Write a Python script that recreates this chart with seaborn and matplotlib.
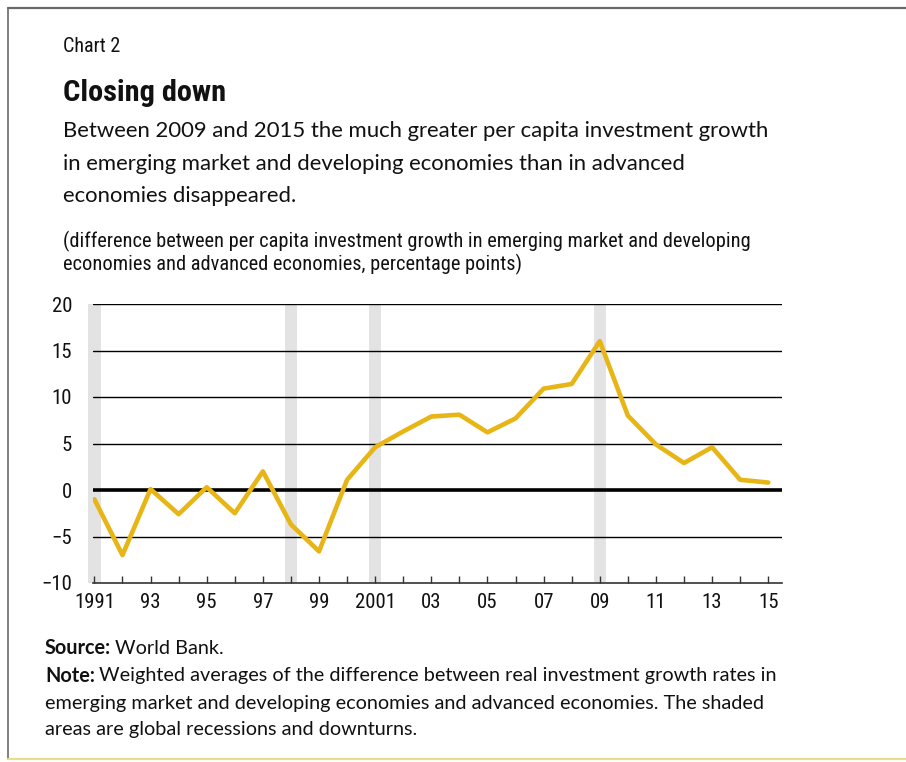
import numpy as np
import pandas as pd
import matplotlib
matplotlib.use("Agg")
import matplotlib.pyplot as plt
from matplotlib.lines import Line2D
import logging
import seaborn as sns

logging.getLogger("matplotlib.font_manager").setLevel(logging.ERROR)

# Difference in per capita investment growth, EMDEs minus advanced economies (pp)
years = list(range(1991, 2016))
gap = [-1.0, -7.0, 0.1, -2.6, 0.3, -2.5, 2.0, -3.7, -6.6, 1.1,
       4.6, 6.3, 7.9, 8.1, 6.2, 7.7, 10.9, 11.4, 16.0, 8.0,
       4.9, 2.9, 4.6, 1.1, 0.8]
# Global recessions and downturns
recession_years = [1991, 1998, 2001, 2009]

y_ticks = [-10, -5, 0, 5, 10, 15, 20]
y_tick_labels = ["\u221210", "\u22125", "0", "5", "10", "15", "20"]
x_label_years = list(range(1991, 2016, 2))
x_tick_labels = ["1991", "93", "95", "97", "99", "2001", "03", "05", "07", "09", "11", "13", "15"]

df = pd.DataFrame({"year": years, "gap": gap})

sns.set_theme(style="white")
COND = ["Roboto Condensed", "Barlow Semi Condensed", "Barlow Condensed", "Roboto", "DejaVu Sans"]
REG = ["Lato", "Open Sans", "DejaVu Sans"]
plt.rcParams["font.family"] = COND

W, H = 906, 762
fig = plt.figure(figsize=(W / 100, H / 100), dpi=100)
fig.patch.set_facecolor("white")
renderer = fig.canvas.get_renderer()


def fx(px):
    return px / W


def fy(py):
    return 1 - py / H


def fit(t, width_px):
    """Scale a text's font size so it spans width_px pixels."""
    bb = t.get_window_extent(renderer=renderer)
    size = t.get_fontsize() * width_px / bb.width
    t.set_fontsize(size)
    return size


# Axes placed in pixel terms
left, right, top, bottom = 93, 782, 304, 583
ax = fig.add_axes([left / W, 1 - bottom / H, (right - left) / W, (bottom - top) / H])

for yr in recession_years:
    ax.axvspan(yr - 0.22, yr + 0.22, color="#E3E3E3", lw=0, zorder=0, clip_on=False)

for yv in [-5, 5, 10, 15, 20]:
    ax.axhline(yv, color="black", lw=1.0, zorder=1)
ax.axhline(0, color="black", lw=2.6, zorder=2)

sns.lineplot(data=df, x="year", y="gap", ax=ax, color="#E7B515", lw=3.3, zorder=3)

# Tick label size: "2001" about 41 px wide
probe = fig.text(0, 0, "2001", fontsize=16, family=COND)
tick_size = fit(probe, 41)
probe.remove()

ax.set_xlim(1990.95, 2015.49)
ax.set_ylim(-10, 20)
ax.set_yticks(y_ticks)
ax.set_yticklabels(y_tick_labels)
ax.set_xticks(years, minor=True)
ax.set_xticks(x_label_years)
ax.set_xticklabels(x_tick_labels)
ax.set_xlabel("")
ax.set_ylabel("")

for s in ["top", "right", "left"]:
    ax.spines[s].set_visible(False)
ax.spines["bottom"].set_color("#333333")
ax.spines["bottom"].set_linewidth(1.2)

ax.tick_params(axis="x", which="both", direction="in", length=5, width=1.0,
               color="#333333", bottom=True, labelsize=tick_size, pad=7.5, labelcolor="#111111")
ax.tick_params(axis="y", length=0, labelsize=tick_size, pad=15, labelcolor="#111111")
ax.set_facecolor("none")

text_kw = dict(color="#111111", va="center", ha="left")
t = fig.text(fx(63), fy(46), "Chart 2", fontsize=13, family=COND, **text_kw)
fit(t, 57)
t = fig.text(fx(63), fy(93), "Closing down", fontsize=20, fontweight="bold", family=COND, **text_kw)
fit(t, 163)

sub = ["Between 2009 and 2015 the much greater per capita investment growth",
       "in emerging market and developing economies than in advanced",
       "economies disappeared."]
t0 = fig.text(fx(63), fy(131), sub[0], fontsize=17, family=REG, **text_kw)
sub_size = fit(t0, 707)
for i, line in enumerate(sub[1:], start=1):
    fig.text(fx(63), fy(131 + 32.5 * i), line, fontsize=sub_size, family=REG, **text_kw)

units = ["(difference between per capita investment growth in emerging market and developing",
         "economies and advanced economies, percentage points)"]
u0 = fig.text(fx(63), fy(241), units[0], fontsize=13, family=COND, **text_kw)
unit_size = fit(u0, 683)
fig.text(fx(63), fy(264), units[1], fontsize=unit_size, family=COND, **text_kw)

n2 = fig.text(fx(45), fy(703), "emerging market and developing economies and advanced economies. The shaded",
              fontsize=14, family=REG, **text_kw)
note_size = fit(n2, 723)
fig.text(fx(45), fy(730), "areas are global recessions and downturns.", fontsize=note_size, family=REG, **text_kw)


def label_value(x, y, head, body, size):
    h = fig.text(fx(x), fy(y), head, fontsize=size, fontweight="bold", family=REG, **text_kw)
    bb = h.get_window_extent(renderer=renderer)
    fig.text((bb.x1 + 4) / W, fy(y), body, fontsize=size, family=REG, **text_kw)


label_value(45, 648, "Source:", "World Bank.", note_size)
label_value(45, 676, "Note:", "Weighted averages of the difference between real investment growth rates in", note_size)

# Frame around the panel
fig.add_artist(Line2D([fx(8), 1], [fy(7.5), fy(7.5)], color="#6A6A6A", lw=1.6))
fig.add_artist(Line2D([fx(8), fx(8)], [fy(7.5), fy(759)], color="#6A6A6A", lw=1.2))
fig.add_artist(Line2D([fx(8), 1], [fy(759), fy(759)], color="#EADB8F", lw=1.6))

fig.savefig("out.png", dpi=100, facecolor="white")
